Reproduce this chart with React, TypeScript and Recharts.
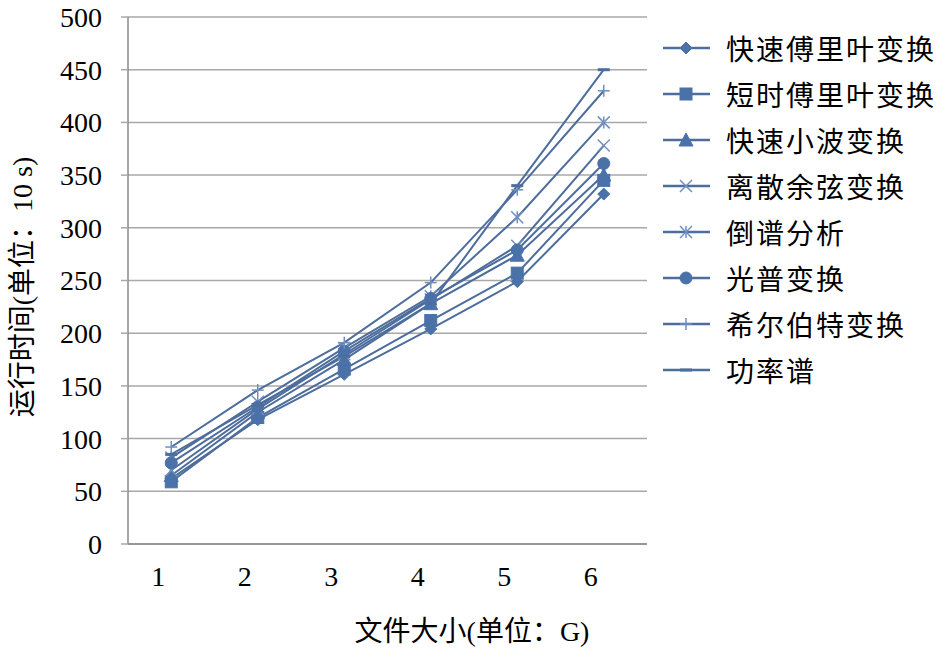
import React from 'react';
import { LineChart, Line, XAxis, YAxis, CartesianGrid, Legend, Label } from 'recharts';

const sizes = [1, 2, 3, 4, 5, 6];
const yTicks = [0, 50, 100, 150, 200, 250, 300, 350, 400, 450, 500];
const bandEdges = [0.5, 1.5, 2.5, 3.5, 4.5, 5.5, 6.5];

const fft = [62, 118, 161, 204, 249, 332];
const stft = [59, 120, 166, 212, 257, 345];
const wavelet = [65, 125, 175, 228, 274, 350];
const dct = [70, 128, 180, 232, 283, 378];
const cepstrum = [82, 135, 186, 235, 310, 400];
const spectrum = [77, 130, 183, 233, 279, 361];
const hilbert = [92, 146, 191, 248, 336, 430];
const power = [85, 132, 178, 228, 340, 450];

const seriesDefs = [
  { key: 'fft', name: '快速傅里叶变换', values: fft, shape: 'diamond' },
  { key: 'stft', name: '短时傅里叶变换', values: stft, shape: 'square' },
  { key: 'wavelet', name: '快速小波变换', values: wavelet, shape: 'triangle' },
  { key: 'dct', name: '离散余弦变换', values: dct, shape: 'x' },
  { key: 'cepstrum', name: '倒谱分析', values: cepstrum, shape: 'star' },
  { key: 'spectrum', name: '光普变换', values: spectrum, shape: 'circle' },
  { key: 'hilbert', name: '希尔伯特变换', values: hilbert, shape: 'plus' },
  { key: 'power', name: '功率谱', values: power, shape: 'dash' },
];

const data = sizes.map((s, i) => {
  const row: Record<string, number> = { size: s };
  seriesDefs.forEach((d) => {
    row[d.key] = d.values[i];
  });
  return row;
});

const LINE = '#4d6d9c';
const FILL = '#4a72a8';
const AXIS = '#8a8a8a';
const GRID = '#a8a8a8';
const SERIF = '"Liberation Serif", "Times New Roman", serif';
const CJK = '"Liberation Serif", "Noto Sans CJK SC", serif';

function Marker({ shape, cx, cy }: { shape: string; cx: number; cy: number }) {
  const s = 6;
  switch (shape) {
    case 'diamond':
      return <polygon points={`${cx},${cy - s} ${cx + s},${cy} ${cx},${cy + s} ${cx - s},${cy}`} fill={FILL} stroke={FILL} />;
    case 'square':
      return <rect x={cx - s} y={cy - s} width={2 * s} height={2 * s} fill={FILL} stroke={FILL} />;
    case 'triangle':
      return <polygon points={`${cx},${cy - s - 1} ${cx + s + 1},${cy + s} ${cx - s - 1},${cy + s}`} fill={FILL} stroke={FILL} />;
    case 'x':
      return (
        <g stroke="#6f8fbf" strokeWidth={1.5}>
          <line x1={cx - s} y1={cy - s} x2={cx + s} y2={cy + s} />
          <line x1={cx - s} y1={cy + s} x2={cx + s} y2={cy - s} />
        </g>
      );
    case 'star':
      return (
        <g stroke="#6f8fbf" strokeWidth={1.5}>
          <line x1={cx - s} y1={cy - s} x2={cx + s} y2={cy + s} />
          <line x1={cx - s} y1={cy + s} x2={cx + s} y2={cy - s} />
          <line x1={cx} y1={cy - s} x2={cx} y2={cy + s} />
        </g>
      );
    case 'circle':
      return <circle cx={cx} cy={cy} r={s} fill={FILL} stroke={FILL} />;
    case 'plus':
      return (
        <g stroke="#6f8fbf" strokeWidth={1.5}>
          <line x1={cx} y1={cy - s} x2={cx} y2={cy + s} />
          <line x1={cx - s} y1={cy} x2={cx + s} y2={cy} />
        </g>
      );
    default:
      return <line x1={cx - s} y1={cy} x2={cx + s} y2={cy} stroke={LINE} strokeWidth={3} />;
  }
}

function renderLegend() {
  return (
    <div style={{ fontFamily: CJK, fontSize: 28, letterSpacing: 2, color: '#000' }}>
      {seriesDefs.map((d) => (
        <div key={d.key} style={{ display: 'flex', alignItems: 'center', height: 46 }}>
          <svg width={66} height={20} style={{ flex: 'none' }}>
            <line x1={3} y1={10} x2={50} y2={10} stroke={LINE} strokeWidth={2.5} />
            <Marker shape={d.shape} cx={26} cy={10} />
          </svg>
          <span style={{ whiteSpace: 'nowrap' }}>{d.name}</span>
        </div>
      ))}
    </div>
  );
}

export default function App() {
  return (
    <div style={{ position: 'absolute', left: 0, top: 0, background: '#fff' }}>
      <LineChart width={945} height={652} data={data} margin={{ top: 17, right: 13, bottom: 48, left: 27 }}>
        <CartesianGrid horizontal vertical={false} stroke={GRID} strokeWidth={1.5} />
        <XAxis
          xAxisId="edges"
          type="number"
          dataKey="size"
          domain={[0.5, 6.5]}
          ticks={bandEdges}
          tick={false}
          tickSize={6}
          tickLine={{ stroke: AXIS }}
          axisLine={false}
          height={0}
        />
        <XAxis
          type="number"
          dataKey="size"
          domain={[0.5, 6.5]}
          ticks={sizes}
          tickLine={false}
          axisLine={{ stroke: AXIS, strokeWidth: 1.5 }}
          height={60}
          tick={{ fill: '#000', fontFamily: SERIF, fontSize: 28, dx: -13, dy: 14 }}
        >
          <Label
            content={() => (
              <text x={472} y={641} textAnchor="middle" fontFamily={CJK} fontSize={28} fill="#000">
                文件大小(单位：G)
              </text>
            )}
          />
        </XAxis>
        <YAxis
          domain={[0, 500]}
          ticks={yTicks}
          width={101}
          tickSize={7}
          tickMargin={19}
          tickLine={{ stroke: GRID, strokeWidth: 1.5 }}
          axisLine={{ stroke: AXIS, strokeWidth: 1.5 }}
          tick={{ fill: '#000', fontFamily: SERIF, fontSize: 28 }}
        >
          <Label
            content={() => (
              <text
                x={32}
                y={287}
                textAnchor="middle"
                transform="rotate(-90 32 287)"
                fontFamily={CJK}
                fontSize={28}
                fill="#000"
              >
                运行时间(单位：10 s)
              </text>
            )}
          />
        </YAxis>
        <Legend
          layout="vertical"
          align="right"
          verticalAlign="top"
          content={renderLegend}
          wrapperStyle={{ left: 660, top: 25, width: 285 }}
        />
        {seriesDefs.map((d) => (
          <Line
            key={d.key}
            type="linear"
            dataKey={d.key}
            name={d.name}
            stroke={LINE}
            strokeWidth={2}
            isAnimationActive={false}
            dot={(p: any) => <Marker key={`${d.key}-${p.index}`} shape={d.shape} cx={p.cx} cy={p.cy} />}
            activeDot={false}
          />
        ))}
      </LineChart>
    </div>
  );
}
